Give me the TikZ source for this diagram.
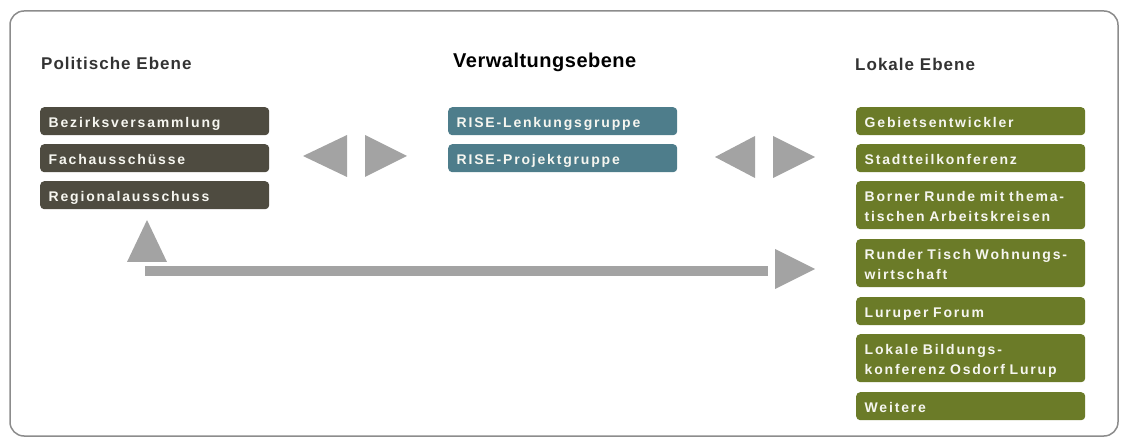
\documentclass[tikz,border=0pt]{standalone}
\usepackage{fontspec}
\setmainfont{Liberation Sans}
\newfontfamily\boxfont{Liberation Sans}[LetterSpace=13]
\newfontfamily\headfont{Liberation Sans}[LetterSpace=6]
\newfontfamily\midheadfont{Liberation Sans}[LetterSpace=2.5]
\definecolor{politc}{HTML}{4E4B40}
\definecolor{verwc}{HTML}{4E7D8B}
\definecolor{lokalc}{HTML}{6B7B28}
\definecolor{arrowc}{HTML}{A3A3A3}
\definecolor{framec}{HTML}{8C8C8C}
\definecolor{headc}{HTML}{333333}
\definecolor{boxtext}{HTML}{F6F6F0}
\tikzset{
  box/.style={anchor=north west, rounded corners=4pt, minimum width=229pt,
    text width=212pt, inner xsep=8.5pt, inner ysep=0pt, align=left,
    text=boxtext, text height=13pt,
    font=\boxfont\bfseries\fontsize{14}{20}\selectfont},
  single/.style={box, minimum height=28pt, text depth=1pt},
  double/.style={box, minimum height=48pt, text depth=21pt},
  polit/.style={single, fill=politc},
  verw/.style={single, fill=verwc},
  lokal/.style={fill=lokalc},
  head/.style={anchor=base west, inner sep=0pt, text=headc,
    font=\headfont\bfseries\fontsize{17}{20}\selectfont},
  tri/.style={fill=arrowc}
}
\begin{document}
\begin{tikzpicture}[x=1pt,y=-1pt]
\useasboundingbox (0,0) rectangle (1125,438);
% outer frame
\draw[framec, line width=1.5pt, rounded corners=14pt] (10,11) rectangle (1118,436);

% level headings
\node[head] (hpol) at (41,70) {Politische Ebene};
\node[anchor=base west, inner sep=0pt, font=\midheadfont\bfseries\fontsize{20}{22}\selectfont] (hverw) at (453,68) {Verwaltungsebene};
\node[head] (hlok) at (855,71) {Lokale Ebene};

% political level
\node[polit] (p1) at (40,107) {Bezirksversammlung};
\node[polit] (p2) at (40,144) {Fachausschüsse};
\node[polit] (p3) at (40,181) {Regionalausschuss};

% administrative level
\node[verw] (v1) at (448,107) {RISE-Lenkungsgruppe};
\node[verw] (v2) at (448,144) {RISE-Projektgruppe};

% local level
\node[single, lokal] (l1) at (856,107) {Gebietsentwickler};
\node[single, lokal] (l2) at (856,144) {Stadtteilkonferenz};
\node[double, lokal] (l3) at (856,181) {Borner Runde mit thema-\\tischen Arbeitskreisen};
\node[double, lokal] (l4) at (856,239) {Runder Tisch Wohnungs-\\wirtschaft};
\node[single, lokal] (l5) at (856,297) {Luruper Forum};
\node[double, lokal] (l6) at (856,334) {Lokale Bildungs-\\konferenz Osdorf Lurup};
\node[single, lokal] (l7) at (856,392) {Weitere};

% double arrows between the levels
\fill[tri] (303,156) -- (347,135) -- (347,177) -- cycle;
\fill[tri] (365,135) -- (407,156) -- (365,177) -- cycle;
\fill[tri] (715,157) -- (755,136) -- (755,178) -- cycle;
\fill[tri] (773,136) -- (815,157) -- (773,178) -- cycle;

% long arrow from the political to the local level
\fill[tri] (147,220) -- (167,262) -- (127,262) -- cycle;
\fill[arrowc] (145,266) rectangle (768,276);
\fill[tri] (775,249) -- (815,269) -- (775,289) -- cycle;
\end{tikzpicture}
\end{document}
